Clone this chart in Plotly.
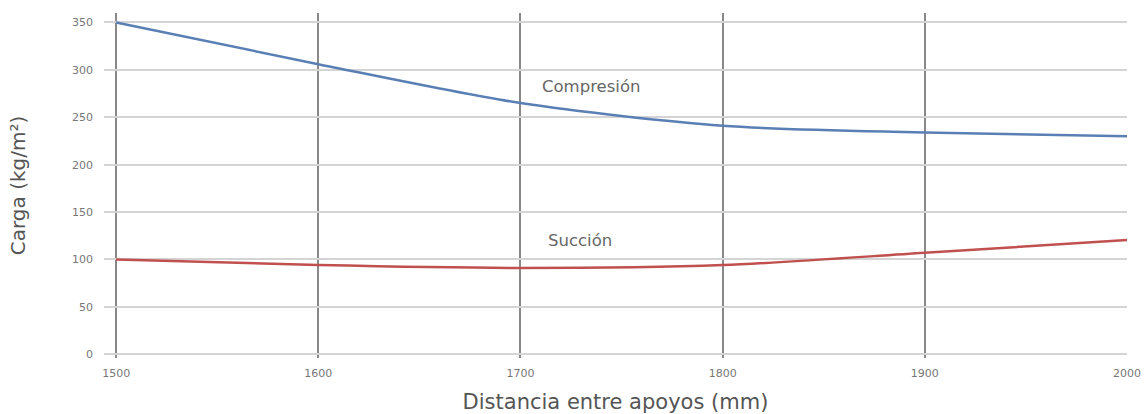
import plotly.graph_objects as go

distancia = [1500, 1600, 1700, 1800, 1900, 2000]
compresion = [350, 306, 265, 241, 234, 230]
succion = [100, 94, 91, 94, 107, 120.5]

FONT = "DejaVu Sans"

fig = go.Figure()
fig.add_trace(go.Scatter(x=distancia, y=compresion, mode="lines", name="Compresión",
                         line=dict(color="#5a7fb5", width=2.5, shape="spline", smoothing=0.8)))
fig.add_trace(go.Scatter(x=distancia, y=succion, mode="lines", name="Succión",
                         line=dict(color="#c0504d", width=2.5, shape="spline", smoothing=0.8)))

fig.add_annotation(x=1735, y=282, text="Compresión", showarrow=False,
                   font=dict(size=16.5, color="#666666", family=FONT))
fig.add_annotation(x=1729.5, y=120.5, text="Succión", showarrow=False,
                   font=dict(size=16.5, color="#666666", family=FONT))

fig.update_layout(
    width=1144, height=414,
    margin=dict(l=104, r=17, t=13, b=56, autoexpand=False),
    paper_bgcolor="white", plot_bgcolor="white",
    showlegend=False,
    font=dict(family=FONT, color="#666666"),
    xaxis=dict(range=[1494, 2000], tickvals=distancia, showgrid=True, automargin=False,
               gridcolor="#888888", gridwidth=2, zeroline=False, showline=False,
               tickfont=dict(size=11, color="#777777"), ticklabelstandoff=7,
               title=dict(text="Distancia entre apoyos (mm)", font=dict(size=21, color="#555555"), standoff=15)),
    yaxis=dict(range=[-4, 360], tickvals=[0, 50, 100, 150, 200, 250, 300, 350], showgrid=True, automargin=False,
               gridcolor="#d4d4d4", gridwidth=2, zeroline=False, showline=False,
               tickfont=dict(size=11, color="#777777"), ticklabelstandoff=10,
               title=dict(text="Carga (kg/m²)", font=dict(size=20, color="#555555"), standoff=41)),
)
fig.write_html("out.html", config={"displayModeBar": False},
               post_script="document.body.style.margin='0';document.body.style.overflow='hidden';")
